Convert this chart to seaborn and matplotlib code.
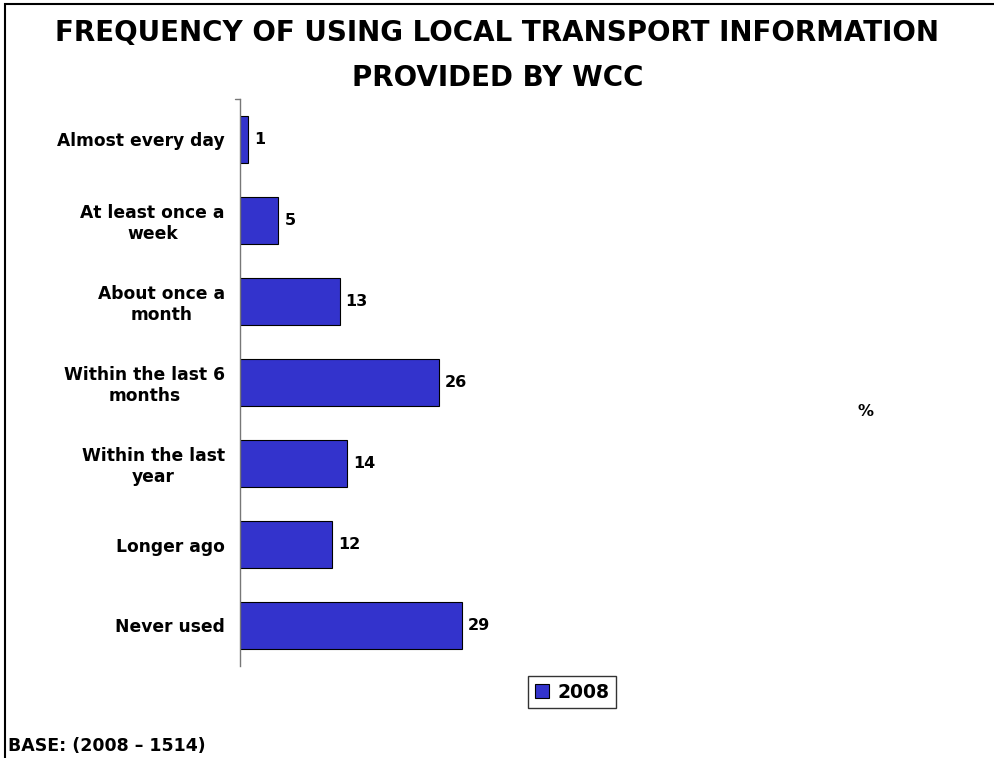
import matplotlib
matplotlib.use('Agg')
import matplotlib.pyplot as plt
import seaborn as sns
import pandas as pd
from matplotlib.patches import Rectangle, Patch

# Chart data
categories = ['Almost every day', 'At least once a\nweek', 'About once a\nmonth',
              'Within the last 6\nmonths', 'Within the last\nyear', 'Longer ago', 'Never used']
values_2008 = [1, 5, 13, 26, 14, 12, 29]
series_name = '2008'

sns.set_style('white')
plt.rcParams['font.family'] = ['DejaVu Sans']
plt.rcParams['text.color'] = 'black'
plt.rcParams['ytick.color'] = 'black'

df = pd.DataFrame({'category': categories, 'value': values_2008})

fig = plt.figure(figsize=(9.95, 7.58), dpi=100)
ax = fig.add_axes([240 / 995, (758 - 666) / 758, 610 / 995, 567 / 758])

sns.barplot(data=df, x='value', y='category', orient='h', color='#3333CC',
            saturation=1, width=0.59, edgecolor='black', linewidth=0.8, ax=ax)

ax.set_xlim(0, 610 / 7.655)
ax.set_ylim(6.5, -0.5)
for s in ['top', 'right', 'bottom']:
    ax.spines[s].set_visible(False)
ax.spines['left'].set_color('#777777')
ax.spines['left'].set_linewidth(1)
ax.set_xticks([])
ax.set_xlabel('')
ax.set_ylabel('')
ax.tick_params(axis='y', length=0, pad=11)
for lab in ax.get_yticklabels():
    lab.set_fontweight('bold')
    lab.set_fontsize(12.3)
    lab.set_multialignment('center')
    lab.set_color('black')
# small top tick
ax.plot([-0.7, 0], [-0.5, -0.5], color='#777777', lw=1, clip_on=False)

for i, v in enumerate(values_2008):
    ax.text(v + 0.8, i, str(v), va='center', ha='left', fontsize=11.5, fontweight='bold')

fig.text(0.5, 0.927, 'FREQUENCY OF USING LOCAL TRANSPORT INFORMATION\nPROVIDED BY WCC',
         ha='center', va='center', fontsize=20, fontweight='bold', linespacing=1.75)
fig.text(866 / 995, 1 - 412 / 758, '%', ha='center', va='center', fontsize=11.5, fontweight='bold')
fig.text(8 / 995, 1 - 746 / 758, 'BASE: (2008 \u2013 1514)', ha='left', va='center',
         fontsize=12.5, fontweight='bold')

fig.legend(handles=[Patch(facecolor='#3333CC', edgecolor='black', linewidth=0.8, label=series_name)],
           loc='center', bbox_to_anchor=(572 / 995, 1 - 692 / 758), frameon=True, fancybox=False,
           edgecolor='black', handlelength=0.75, handleheight=0.75,
           handletextpad=0.45, borderpad=0.35, prop={'weight': 'bold', 'size': 13.5})

# figure frame (left and top visible)
fig.patches.append(Rectangle((5 / 995, -0.05), 1.1, 1 - 4 / 758 + 0.05, transform=fig.transFigure,
                             fill=False, edgecolor='black', linewidth=1.5))

fig.savefig('out.png', dpi=100)
